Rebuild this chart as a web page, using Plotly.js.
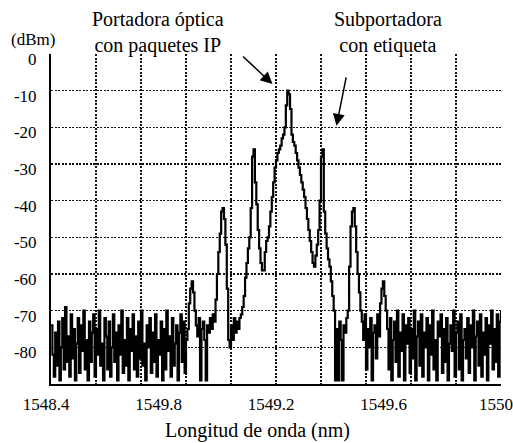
<!DOCTYPE html>
<html><head><meta charset="utf-8">
<script src="https://cdn.plot.ly/plotly-3.0.1.min.js"></script>
<style>html,body{margin:0;padding:0;background:#fff}#chart{width:513px;height:443px}</style>
</head><body><div id="chart"></div>
<script>
// Spectrum sampling grid (nm): first sample and spacing
const startNm = 1548.4;
const stepNm = 0.005;

// Measured optical power (dBm), one value per sample
const powerDbm = [
 -74,-82,-88,-76,-85,-73,-89,-80,-72,-86,
 -69,-84,-77,-88,-71,-83,-75,-89,-79,-72,
 -87,-74,-81,-70,-86,-78,-89,-73,-84,-76,
 -71,-88,-75,-82,-70,-85,-79,-89,-72,-77,
 -86,-73,-88,-80,-71,-84,-76,-89,-74,-82,
 -70,-87,-78,-85,-72,-89,-75,-81,-71,-86,
 -77,-88,-73,-83,-70,-85,-79,-89,-74,-80,
 -72,-87,-76,-84,-71,-88,-78,-82,-73,-89,
 -75,-86,-70,-81,-77,-88,-72,-85,-79,-74,
 -89,-76,-71,-84,-73,-87,-78,
 -75,-68,-64,-62,-65,-70,
 -74,-77,-72,-89,-75,-73,-78,-89,-74,-76,-72,-75,-71,-73,
 -67,-60,-54,-49,-43,-42,-45,-52,-64,-78,
 -80,-74,-78,-72,-76,-73,-75,-72,-71,-69,
 -66,-61,-57,-53,-50,-42,-28,-26,-35,-41,
 -48,-53,-57,-59,-59,-54,-51,-50,-47,-43,
 -39,-35,-31,-29,-27,-26,-25,-23,-22,-20,
 -14,-10,-11,-15,-22,-24,-25,-27,-29,-31,
 -33,-35,-37,-39,-42,-45,-48,-51,-54,-57,
 -58,-55,-52,-48,-40,-28,-26,-43,-49,-53,
 -56,-58,-62,-66,-70,
 -89,-75,-89,-73,-78,-89,-74,-76,-72,-70,
 -58,-47,-43,-42,-47,-54,-60,-65,-70,
 -73,-78,-71,-86,-75,-80,-72,-89,-76,-74,-83,-71,-77,
 -68,-64,-62,-66,-70,
 -75,-86,-72,-89,-78,-73,-84,-70,-88,-76,
 -81,-71,-89,-74,-79,-72,-87,-75,-83,-70,
 -89,-77,-73,-85,-71,-88,-76,-80,-72,-89,
 -74,-82,-70,-86,-78,-89,-73,-77,-71,-87,
 -75,-84,-72,-89,-79,-74,-81,-70,-88,-76,
 -73,-86,-71,-89,-78,-75,-83,-72,-87,-74,
 -80,-70,-89,-77,-73,-85,-71,-88,-76,-82,
 -72,-89,-74,-79,-70,-86,-75,-84,-71,-88,
 -73,-70
];

const xRange = [1548.4, 1550];
const yRange = [-90, 0];
const xGridVals = [1548.4,1548.56,1548.72,1548.88,1549.04,1549.2,1549.36,1549.52,1549.68,1549.84,1550];
const xLabelVals = [1548.4,1548.8,1549.2,1549.6,1550];
const xLabelText = ['1548.4','1549.8','1549.2','1549.6','1550'];
const yTickVals = [0,-10,-20,-30,-40,-50,-60,-70,-80];
const yTickText = ['0','-10','-20','-30','-40','-50','-60','-70','-80'];

const serif = 'Liberation Serif, Times New Roman, serif';
const gridDash = '2px,1.5px';

const traces = [
  {type:'scatter', mode:'lines', x0:startNm, dx:stepNm, y:powerDbm,
   line:{color:'#000', width:2.2, shape:'hv'}, hoverinfo:'skip', xaxis:'x', yaxis:'y'},
  {type:'scatter', mode:'lines', x:[], y:[], xaxis:'x2', yaxis:'y', hoverinfo:'skip'}
];

const layout = {
  width:513, height:443,
  margin:{l:51, r:12, t:54, b:59},
  paper_bgcolor:'#fff', plot_bgcolor:'#fff',
  showlegend:false,
  xaxis:{range:xRange, tickmode:'array', tickvals:xGridVals, showticklabels:false,
         showgrid:true, gridcolor:'#111', gridwidth:1.2, griddash:gridDash,
         zeroline:false, showline:true, linecolor:'#000', linewidth:2, ticks:''},
  xaxis2:{overlaying:'x', anchor:'y', side:'bottom', range:xRange, tickmode:'array',
          tickvals:xLabelVals, ticktext:xLabelText, showgrid:false, zeroline:false,
          showline:false, ticks:'', ticklabelshift:-5, ticklabelstandoff:8,
          tickfont:{family:serif, size:17, color:'#000'}},
  yaxis:{range:yRange, tickmode:'array', tickvals:yTickVals, ticktext:yTickText,
         showgrid:true, gridcolor:'#111', gridwidth:1.2, griddash:gridDash,
         zeroline:false, showline:true, linecolor:'#000', linewidth:2, ticks:'',
         ticklabelstandoff:9, ticklabelshift:5,
         tickfont:{family:serif, size:17, color:'#000'}},
  annotations:[
    {xref:'paper', yref:'paper', x:0.238, y:1.065, xanchor:'center', yanchor:'middle',
     text:'Portadora óptica<br>con paquetes IP', showarrow:false,
     font:{family:serif, size:20, color:'#000'}},
    {xref:'paper', yref:'paper', x:0.749, y:1.065, xanchor:'center', yanchor:'middle',
     text:'Subportadora<br>con etiqueta', showarrow:false,
     font:{family:serif, size:20, color:'#000'}},
    {xref:'paper', yref:'paper', x:-0.04, y:1.045, xanchor:'center', yanchor:'middle',
     text:'(dBm)', showarrow:false, font:{family:serif, size:17, color:'#000'}},
    {xref:'paper', yref:'paper', x:0.459, y:-0.142, xanchor:'center', yanchor:'middle',
     text:'Longitud de onda (nm)', showarrow:false, font:{family:serif, size:20, color:'#000'}},
    {xref:'x', yref:'y', x:1549.1876, y:-8.2, ax:-31, ay:-29, text:'', showarrow:true,
     arrowhead:2, arrowsize:1.6, arrowwidth:1.5, arrowcolor:'#000', standoff:0},
    {xref:'x', yref:'y', x:1549.415, y:-19.6, ax:10, ay:-50, text:'', showarrow:true,
     arrowhead:2, arrowsize:1.6, arrowwidth:1.5, arrowcolor:'#000', standoff:0}
  ]
};

Plotly.newPlot('chart', traces, layout, {displayModeBar:false, staticPlot:true});
</script>
</body></html>
